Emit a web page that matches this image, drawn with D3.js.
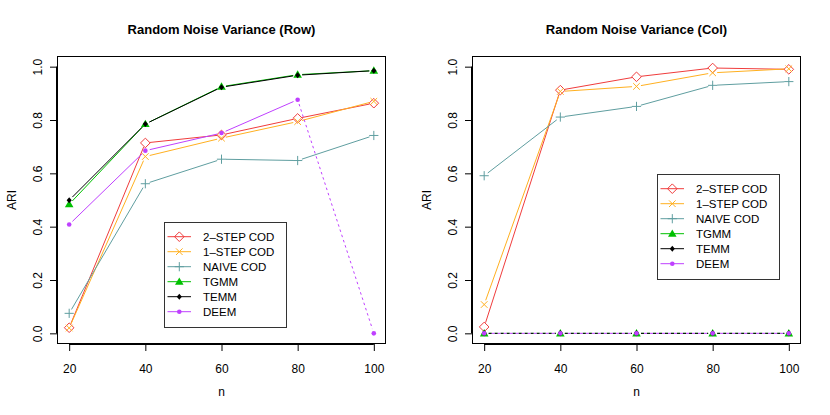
<!DOCTYPE html>
<html><head><meta charset="utf-8">
<script src="https://cdn.jsdelivr.net/npm/d3@7/dist/d3.min.js"></script>
<style>body{margin:0;background:#fff}svg{display:block;font-family:"Liberation Sans",Arial,sans-serif}</style>
</head><body>
<svg id="c" width="830" height="415"></svg>
<script>
// ---- data ----
const nValues = [20, 40, 60, 80, 100];
const seriesNames = ["2–STEP COD", "1–STEP COD", "NAIVE COD", "TGMM", "TEMM", "DEEM"];
const yTicks = [0.0, 0.2, 0.4, 0.6, 0.8, 1.0];
const titles = ["Random Noise Variance (Row)", "Random Noise Variance (Col)"];
// Row panel
const rowTwoStep = [0.021, 0.714, 0.744, 0.806, 0.863];
const rowOneStep = [0.020, 0.663, 0.732, 0.794, 0.870];
const rowNaive   = [0.075, 0.561, 0.653, 0.648, 0.742];
const rowTGMM    = [0.484, 0.785, 0.925, 0.970, 0.985];
const rowTEMM    = [0.499, 0.785, 0.923, 0.968, 0.985];
const rowDEEM    = [0.408, 0.685, 0.751, 0.876, 0.000];
// Col panel
const colTwoStep = [0.024, 0.912, 0.962, 0.995, 0.990];
const colOneStep = [0.108, 0.907, 0.926, 0.977, 0.992];
const colNaive   = [0.591, 0.811, 0.851, 0.930, 0.944];
const colTGMM    = [0.000, 0.000, 0.000, 0.000, 0.000];
const colTEMM    = [0.000, 0.000, 0.000, 0.000, 0.000];
const colDEEM    = [0.000, 0.000, 0.000, 0.000, 0.000];

const colors = ["#f03c3c", "#ffb020", "#5f9ea0", "#00c000", "#000000", "#bf40ff"];
const shapes = ["diamondOpen", "cross", "plus", "triangle", "diamondSmall", "dot"];

const panels = [
  {title: titles[0], dx: 0, series: [rowTwoStep, rowOneStep, rowNaive, rowTGMM, rowTEMM, rowDEEM],
   legend: {x: 164, y: 222, w: 122, h: 105}},
  {title: titles[1], dx: 415, series: [colTwoStep, colOneStep, colNaive, colTGMM, colTEMM, colDEEM],
   legend: {x: 657, y: 174, w: 122, h: 105}}
];

const svg = d3.select("#c");
const font = "12px";

function marker(g, shape, x, y, color) {
  const s = 4.2;
  if (shape === "diamondOpen") {
    g.append("path").attr("d", `M${x},${y-s-0.6}L${x+s+0.6},${y}L${x},${y+s+0.6}L${x-s-0.6},${y}Z`)
      .attr("fill", "none").attr("stroke", color).attr("stroke-width", 1);
  } else if (shape === "cross") {
    const c = 3.3;
    g.append("path").attr("d", `M${x-c},${y-c}L${x+c},${y+c}M${x-c},${y+c}L${x+c},${y-c}`)
      .attr("stroke", color).attr("stroke-width", 1);
  } else if (shape === "plus") {
    const c = 4.6;
    g.append("path").attr("d", `M${x-c},${y}L${x+c},${y}M${x},${y-c}L${x},${y+c}`)
      .attr("stroke", color).attr("stroke-width", 1);
  } else if (shape === "triangle") {
    const c = 4.3;
    g.append("path").attr("d", `M${x},${y-c}L${x+c},${y+c*0.72}L${x-c},${y+c*0.72}Z`)
      .attr("fill", color);
  } else if (shape === "diamondSmall") {
    const c = 3.0;
    g.append("path").attr("d", `M${x},${y-c}L${x+c*0.85},${y}L${x},${y+c}L${x-c*0.85},${y}Z`)
      .attr("fill", color);
  } else if (shape === "dot") {
    g.append("circle").attr("cx", x).attr("cy", y).attr("r", 2.3).attr("fill", color);
  }
}

panels.forEach((p) => {
  const x0 = 57 + p.dx, x1 = 386 + p.dx, y0 = 56, y1 = 344;
  const x = d3.scaleLinear().domain([16.8, 103.2]).range([x0, x1]);
  const y = d3.scaleLinear().domain([-0.04, 1.04]).range([y1, y0]);
  const g = svg.append("g");

  // title
  g.append("text").attr("x", (x0 + x1) / 2).attr("y", 33.5).attr("text-anchor", "middle")
    .attr("font-size", "13px").attr("font-weight", "bold").text(p.title);

  // x axis
  const xa = g.append("g").attr("transform", `translate(0,${y1})`)
    .call(d3.axisBottom(x).tickValues(nValues).tickSize(7).tickSizeOuter(0).tickPadding(13));
  xa.select(".domain").attr("d", `M${x(nValues[0])},0.5H${x(nValues[nValues.length-1])}`);
  xa.selectAll("text").attr("font-size", font).attr("font-family", "Liberation Sans, Arial, sans-serif").attr("fill", "#000");
  xa.selectAll("line,path").attr("stroke", "#000");

  // y axis
  const ya = g.append("g").attr("transform", `translate(${x0},0)`)
    .call(d3.axisLeft(y).tickValues(yTicks).tickFormat(d3.format(".1f")).tickSize(7).tickSizeOuter(0));
  ya.select(".domain").attr("d", `M-0.5,${y(1)}V${y(0)}`);
  ya.selectAll("line,path").attr("stroke", "#000");
  ya.selectAll(".tick text").attr("font-size", font).attr("font-family", "Liberation Sans, Arial, sans-serif")
    .attr("fill", "#000").attr("text-anchor", "middle").attr("dy", null)
    .attr("x", null).attr("transform", "translate(-15.5,0) rotate(-90)");

  // axis titles
  g.append("text").attr("x", (x0 + x1) / 2).attr("y", 395.5).attr("text-anchor", "middle")
    .attr("font-size", font).text("n");
  g.append("text").attr("transform", `translate(${15.5 + p.dx},${(y0 + y1) / 2}) rotate(-90)`)
    .attr("text-anchor", "middle").attr("font-size", font).text("ARI");

  // box
  g.append("rect").attr("x", x0 + 0.5).attr("y", y0 + 0.5).attr("width", x1 - x0 - 1).attr("height", y1 - y0 - 1)
    .attr("fill", "none").attr("stroke", "#000").attr("stroke-width", 1);

  // series (type="b": lines with gaps around points)
  const gap = 4.5;
  p.series.forEach((vals, si) => {
    const pts = vals.map((v, i) => [x(nValues[i]), y(v)]);
    for (let i = 0; i < pts.length - 1; i++) {
      const [ax, ay] = pts[i], [bx, by] = pts[i + 1];
      const len = Math.hypot(bx - ax, by - ay);
      if (len <= 2 * gap) continue;
      const ux = (bx - ax) / len, uy = (by - ay) / len;
      const seg = g.append("line")
        .attr("x1", ax + ux * gap).attr("y1", ay + uy * gap)
        .attr("x2", bx - ux * gap).attr("y2", by - uy * gap)
        .attr("stroke", colors[si]).attr("stroke-width", 1);
      const failed = vals[i] === 0 || vals[i + 1] === 0;
      if (failed) {
        if (vals[i] === 0 && vals[i + 1] === 0) {
          seg.attr("stroke-dasharray", "3,3").attr("stroke-dashoffset", si === 5 ? 3 : 0);
        } else {
          seg.attr("stroke-dasharray", "2.5,3");
        }
      }
    }
    pts.forEach(([px, py]) => marker(g, shapes[si], px, py, colors[si]));
  });

  // legend
  const L = p.legend;
  g.append("rect").attr("x", L.x + 0.5).attr("y", L.y + 0.5).attr("width", L.w).attr("height", L.h)
    .attr("fill", "#fff").attr("stroke", "#333").attr("stroke-width", 1);
  seriesNames.forEach((name, si) => {
    const cy = L.y + 14.7 + si * 15;
    g.append("line").attr("x1", L.x + 3.5).attr("x2", L.x + 27).attr("y1", cy).attr("y2", cy)
      .attr("stroke", colors[si]).attr("stroke-width", 1);
    marker(g, shapes[si], L.x + 15.3, cy, colors[si]);
    g.append("text").attr("x", L.x + 39).attr("y", cy + 4.2).attr("font-size", "11.5px").text(name);
  });
});
</script>
</body></html>
